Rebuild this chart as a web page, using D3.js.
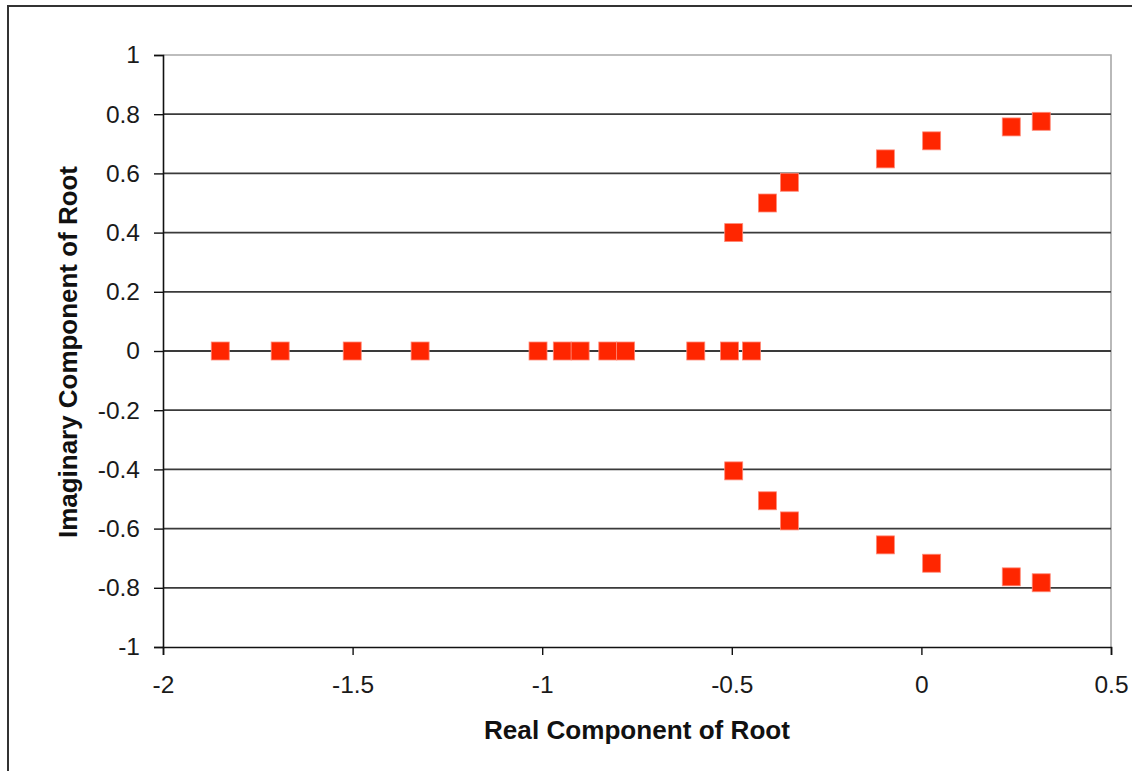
<!DOCTYPE html>
<html>
<head>
<meta charset="utf-8">
<script src="https://cdn.jsdelivr.net/npm/d3@7"></script>
<style>
  html, body { margin: 0; padding: 0; background: #fff; }
  svg { display: block; }
</style>
</head>
<body>
<svg id="chart" width="1132" height="771"></svg>
<script>
// Real and imaginary parts of the roots
const realParts = [
  -1.849, -1.691, -1.501, -1.322,
  -1.011, -0.947, -0.900, -0.827, -0.780,
  -0.595, -0.506, -0.448,
  -0.495, -0.406, -0.348, -0.095, 0.027, 0.237, 0.316,
  -0.495, -0.406, -0.348, -0.095, 0.027, 0.237, 0.316
];
const imagParts = [
  0, 0, 0, 0,
  0, 0, 0, 0, 0,
  0, 0, 0,
  0.400, 0.500, 0.570, 0.649, 0.710, 0.757, 0.776,
  -0.405, -0.506, -0.574, -0.655, -0.717, -0.763, -0.783
];
const xTicks = [-2, -1.5, -1, -0.5, 0, 0.5];
const yTicks = [-1, -0.8, -0.6, -0.4, -0.2, 0, 0.2, 0.4, 0.6, 0.8, 1];
const xTitle = "Real Component of Root";
const yTitle = "Imaginary Component of Root";

(function () {
const points = realParts.map((r, i) => ({ re: r, im: imagParts[i] }));

const svg = d3.select("#chart");
const pLeft = 163, pRight = 1111, pTop = 55, pBottom = 647;
const font = "Arial, 'Liberation Sans', sans-serif";

const x = d3.scaleLinear().domain([-2, 0.5]).range([pLeft, pRight]);
const y = d3.scaleLinear().domain([-1, 1]).range([pBottom, pTop]);

// outer chart frame
svg.append("rect")
  .attr("x", 8).attr("y", 6).attr("width", 1140).attr("height", 800)
  .attr("fill", "#fff").attr("stroke", "#333").attr("stroke-width", 2);

// plot area border (top / right, gray)
svg.append("path")
  .attr("d", `M${pLeft},${pTop}H${pRight}V${pBottom}`)
  .attr("fill", "none").attr("stroke", "#a8a8a8").attr("stroke-width", 1.6);

// horizontal gridlines
svg.append("g")
  .selectAll("line")
  .data(yTicks.filter(v => v !== 1 && v !== -1))
  .join("line")
  .attr("x1", pLeft).attr("x2", pRight)
  .attr("y1", d => y(d)).attr("y2", d => y(d))
  .attr("stroke", "#3a3a3a").attr("stroke-width", 1.8);

// x axis
const xAxis = d3.axisBottom(x).tickValues(xTicks).tickSize(8).tickPadding(21)
  .tickFormat(d => String(d));
const gx = svg.append("g").attr("transform", `translate(0,${pBottom})`).call(xAxis);
gx.select(".domain").attr("stroke", "#111").attr("stroke-width", 1.6);
gx.selectAll(".tick line").attr("stroke", "#111").attr("stroke-width", 1.4);
gx.selectAll(".tick text")
  .attr("font-family", font)
  .attr("font-size", 24.5).attr("fill", "#1a1a1a");

// y axis
const yAxis = d3.axisLeft(y).tickValues(yTicks).tickSize(9).tickPadding(14)
  .tickFormat(d => String(d));
const gy = svg.append("g").attr("transform", `translate(${pLeft},0)`).call(yAxis);
gy.select(".domain").attr("stroke", "#111").attr("stroke-width", 1.6);
gy.selectAll(".tick line").attr("stroke", "#111").attr("stroke-width", 1.4);
gy.selectAll(".tick text")
  .attr("font-family", font)
  .attr("font-size", 24.5).attr("fill", "#1a1a1a");

// markers
const s = 18;
svg.append("g")
  .selectAll("rect")
  .data(points)
  .join("rect")
  .attr("x", d => x(d.re) - s / 2)
  .attr("y", d => y(d.im) - s / 2)
  .attr("width", s).attr("height", s)
  .attr("fill", "#ff2600")
  .attr("stroke", "#ff8a78").attr("stroke-width", 0.8);

// axis titles
svg.append("text")
  .attr("x", 637).attr("y", 739)
  .attr("text-anchor", "middle")
  .attr("font-family", font)
  .attr("font-weight", "bold").attr("font-size", 26)
  .attr("textLength", 306).attr("lengthAdjust", "spacingAndGlyphs")
  .attr("fill", "#111")
  .text(xTitle);

svg.append("text")
  .attr("transform", "translate(77,352) rotate(-90)")
  .attr("text-anchor", "middle")
  .attr("font-family", font)
  .attr("font-weight", "bold").attr("font-size", 26)
  .attr("textLength", 372).attr("lengthAdjust", "spacingAndGlyphs")
  .attr("fill", "#111")
  .text(yTitle);
})();
</script>
</body>
</html>
